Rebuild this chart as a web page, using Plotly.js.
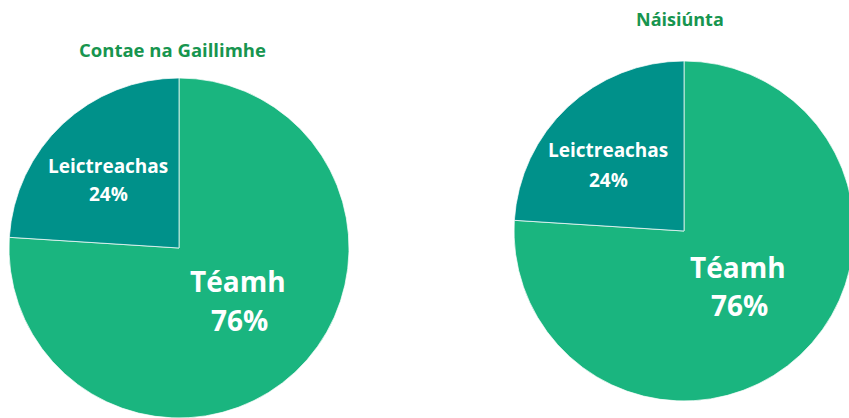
<!DOCTYPE html>
<html><head><meta charset="utf-8">
<script src="https://cdn.plot.ly/plotly-3.0.1.min.js"></script>
<style>html,body{margin:0;padding:0;overflow:hidden;background:#fff;width:849px;height:418px}</style>
</head><body><div id="chart"></div>
<script>
const labels = ["Téamh", "Leictreachas"];
const galwayValues = [76, 24];
const nationalValues = [76, 24];
const chartTitles = ["Contae na Gaillimhe", "Náisiúnta"];
const colors = ["#1AB57F", "#00918A"];

const W = 860, H = 418;
function pieTrace(values, cx, cy, r) {
  return {
    type: "pie", labels: labels, values: values, sort: false, direction: "clockwise", rotation: 0,
    marker: {colors: colors, line: {color: "rgba(255,255,255,0.7)", width: 1}},
    textinfo: "none",
    hoverinfo: "label+percent",
    domain: {x: [(cx - r) / W, (cx + r) / W], y: [(H - cy - r) / H, (H - cy + r) / H]},
    showlegend: false
  };
}
function pct(values, i) {
  const tot = values.reduce((a, b) => a + b, 0);
  return Math.round(values[i] / tot * 100) + "%";
}
function ann(text, px, py, size, color) {
  return {text: text, x: px / W, y: 1 - py / H, xref: "paper", yref: "paper", showarrow: false,
    xanchor: "center", yanchor: "middle",
    font: {family: "Open Sans", size: size, color: color, weight: "bold"}};
}
function sliceLabels(values, cx, cy, o) {
  return [
    ann(labels[1], cx + o[0], cy + o[1], 19, "#ffffff"),
    ann(pct(values, 1), cx + o[0], cy + o[1] + o[2], 19, "#ffffff"),
    ann(labels[0], cx + o[3], cy + o[4], 28, "#ffffff"),
    ann(pct(values, 0), cx + o[3] + 1, cy + o[4] + o[5], 28, "#ffffff")
  ];
}
const data = [pieTrace(galwayValues, 179, 248, 170), pieTrace(nationalValues, 684, 231, 170)];
const layout = {
  width: W, height: H, margin: {l: 0, r: 0, t: 0, b: 0},
  paper_bgcolor: "#ffffff", showlegend: false,
  annotations: [
    ann(chartTitles[0], 172, 49, 18.5, "#17954F"),
    ann(chartTitles[1], 680, 19, 18, "#17954F")
  ].concat(
    sliceLabels(galwayValues, 179, 248, [-71, -82, 28, 59, 33, 39]),
    sliceLabels(nationalValues, 684, 231, [-76, -81, 30, 54, 36, 38])
  )
};
Plotly.newPlot("chart", data, layout, {displayModeBar: false, staticPlot: true});
</script></body></html>
